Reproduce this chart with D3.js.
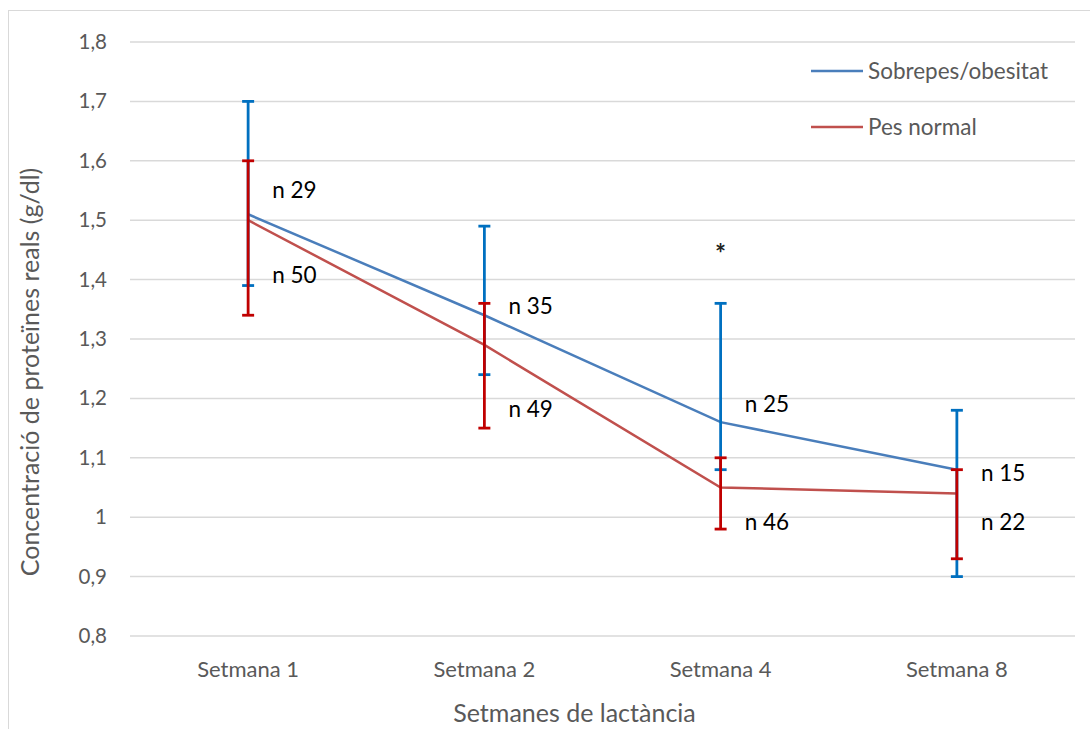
<!DOCTYPE html>
<html>
<head>
<meta charset="utf-8">
<script src="https://cdn.jsdelivr.net/npm/d3@7"></script>
<style>
  body { margin: 0; background: #fff; }
  text { font-family: Lato, "Open Sans", sans-serif; }
</style>
</head>
<body>
<div id="chart"></div>
<script>
// data
var weeks = ["Setmana 1", "Setmana 2", "Setmana 4", "Setmana 8"];
var seriesNames = ["Sobrepes/obesitat", "Pes normal"];
var overweightMean = [1.51, 1.34, 1.16, 1.08];
var overweightLow = [1.39, 1.24, 1.08, 0.90];
var overweightHigh = [1.70, 1.49, 1.36, 1.18];
var normalMean = [1.50, 1.29, 1.05, 1.04];
var normalLow = [1.34, 1.15, 0.98, 0.93];
var normalHigh = [1.60, 1.36, 1.10, 1.08];
var overweightN = ["n 29", "n 35", "n 25", "n 15"];
var normalN = ["n 50", "n 49", "n 46", "n 22"];
// value at which each n label sits
var overweightNAt = [1.551, 1.355, 1.19, 1.074];
var normalNAt = [1.408, 1.182, 0.991, 0.991];
var starWeek = "Setmana 4";
var starAt = 1.455;
var yTicks = [0.8, 0.9, 1.0, 1.1, 1.2, 1.3, 1.4, 1.5, 1.6, 1.7, 1.8];

var svgWidth = 1090, svgHeight = 729;
var margin = { top: 42, left: 130, right: 15, bottom: 93 };
var width = svgWidth - margin.left - margin.right;
var height = svgHeight - margin.top - margin.bottom;

var svg = d3.select("#chart").append("svg")
  .attr("width", svgWidth)
  .attr("height", svgHeight);

// chart border
svg.append("rect")
  .attr("x", 8.5).attr("y", 10.5)
  .attr("width", 1100).attr("height", 800)
  .attr("fill", "none")
  .attr("stroke", "#d9d9d9");

var chartGroup = svg.append("g")
  .attr("transform", `translate(${margin.left}, ${margin.top})`);

var x = d3.scaleBand().domain(weeks).range([0, width]);
var y = d3.scaleLinear().domain([0.8, 1.8]).range([height, 0]);
var cx = d => x(d) + x.bandwidth() / 2;

// gridlines
chartGroup.append("g")
  .selectAll("line")
  .data(yTicks)
  .enter()
  .append("line")
  .attr("x1", 0).attr("x2", width)
  .attr("y1", d => y(d)).attr("y2", d => y(d))
  .attr("stroke", "#d9d9d9")
  .attr("stroke-width", 1.5);

// y axis labels
var yAxis = d3.axisLeft(y).tickValues(yTicks).tickSize(0).tickPadding(23)
  .tickFormat(d => d3.format(".1f")(d).replace(".", ",").replace(",0", ""));
var yAxisGroup = chartGroup.append("g").call(yAxis);
yAxisGroup.select(".domain").remove();
yAxisGroup.selectAll("text")
  .attr("fill", "#595959")
  .style("font-size", "20.5px");

// x axis labels
var xAxis = d3.axisBottom(x).tickSize(0).tickPadding(25);
var xAxisGroup = chartGroup.append("g")
  .attr("transform", `translate(0, ${height})`)
  .call(xAxis);
xAxisGroup.select(".domain").remove();
xAxisGroup.selectAll("text")
  .attr("fill", "#595959")
  .style("font-size", "22px");

// axis titles
chartGroup.append("text")
  .attr("x", width / 2 - 28)
  .attr("y", height + 86)
  .attr("text-anchor", "middle")
  .attr("fill", "#595959")
  .style("font-size", "25px")
  .text("Setmanes de lactància");

chartGroup.append("text")
  .attr("transform", "rotate(-90)")
  .attr("x", -(height / 2) - 33)
  .attr("y", -91)
  .attr("text-anchor", "middle")
  .attr("fill", "#595959")
  .style("font-size", "25px")
  .text("Concentració de proteïnes reals (g/dl)");

var series = [
  { name: seriesNames[0], mean: overweightMean, low: overweightLow, high: overweightHigh, line: "#4a7ebb", bar: "#0070c0" },
  { name: seriesNames[1], mean: normalMean, low: normalLow, high: normalHigh, line: "#c0504d", bar: "#c00000" }
];

// lines
var line = d3.line()
  .x((d, i) => cx(weeks[i]))
  .y(d => y(d));

series.forEach(function(s) {
  chartGroup.append("path")
    .datum(s.mean)
    .attr("d", line)
    .attr("fill", "none")
    .attr("stroke", s.line)
    .attr("stroke-width", 2.5);
});

// error bars
series.forEach(function(s) {
  var g = chartGroup.append("g").attr("stroke", s.bar).attr("stroke-width", 2.8);
  weeks.forEach(function(w, i) {
    g.append("line")
      .attr("x1", cx(w)).attr("x2", cx(w))
      .attr("y1", y(s.low[i])).attr("y2", y(s.high[i]));
    [s.low[i], s.high[i]].forEach(function(v) {
      g.append("line")
        .attr("x1", cx(w) - 6).attr("x2", cx(w) + 6)
        .attr("y1", y(v)).attr("y2", y(v));
    });
  });
});

// n labels
function nLabels(labels, at) {
  chartGroup.append("g")
    .selectAll("text")
    .data(labels)
    .enter()
    .append("text")
    .attr("x", (d, i) => cx(weeks[i]) + 24)
    .attr("y", (d, i) => y(at[i]))
    .attr("dy", "0.35em")
    .attr("fill", "#000")
    .style("font-size", "22.5px")
    .text(d => d);
}
nLabels(overweightN, overweightNAt);
nLabels(normalN, normalNAt);

// significance mark
chartGroup.append("text")
  .attr("x", cx(starWeek))
  .attr("y", y(starAt))
  .attr("dy", "0.6em")
  .attr("text-anchor", "middle")
  .attr("fill", "#222")
  .style("font-size", "26px")
  .style("font-weight", "bold")
  .text("*");

// legend
var legend = svg.append("g").attr("transform", "translate(811, 71)");
series.forEach(function(s, i) {
  var item = legend.append("g").attr("transform", `translate(0, ${i * 56})`);
  item.append("line")
    .attr("x1", 0).attr("x2", 52)
    .attr("stroke", s.line)
    .attr("stroke-width", 2.5);
  item.append("text")
    .attr("x", 57)
    .attr("dy", "0.35em")
    .attr("fill", "#595959")
    .style("font-size", "22.5px")
    .text(s.name);
});
</script>
</body>
</html>
